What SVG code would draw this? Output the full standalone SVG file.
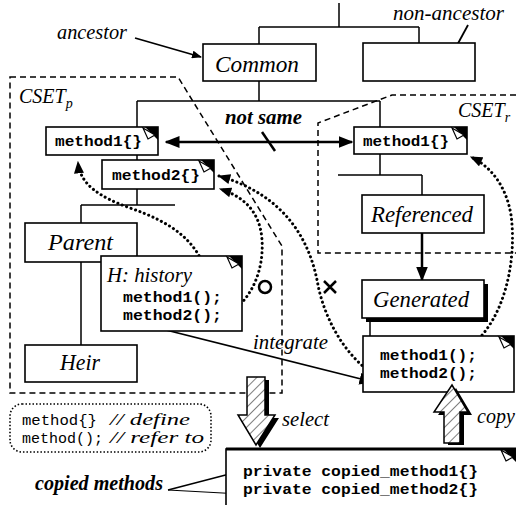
<svg xmlns="http://www.w3.org/2000/svg" width="516" height="505" viewBox="0 0 516 505">
<style>
.box{fill:#fff;stroke:#000;stroke-width:1.6}
.ln{fill:none;stroke:#000;stroke-width:1.5}
.dash{fill:none;stroke:#000;stroke-width:1.5;stroke-dasharray:6 4}
.dot{fill:none;stroke:#000;stroke-width:3;stroke-dasharray:0.1 4.6;stroke-linecap:round}
.lbl{font-family:"Liberation Serif",serif;font-style:italic;font-size:23px;fill:#000}
.sm{font-size:21px}
.b{font-weight:bold}
.mono{font-family:"Liberation Mono",monospace;font-weight:bold;font-size:15px;fill:#000}
.reg{font-weight:normal}
</style>
<defs>
<marker id="ah" viewBox="0 0 10 8" refX="9" refY="4" markerWidth="10" markerHeight="8" markerUnits="userSpaceOnUse" orient="auto-start-reverse"><path d="M0,0 L10,4 L0,8 z" fill="#000"/></marker>
<marker id="ahL" viewBox="0 0 10 8" refX="9" refY="4" markerWidth="15" markerHeight="12" markerUnits="userSpaceOnUse" orient="auto-start-reverse"><path d="M0,0 L10,4 L0,8 z" fill="#000"/></marker>
<marker id="ahD" viewBox="0 0 10 8" refX="9" refY="4" markerWidth="13" markerHeight="10" markerUnits="userSpaceOnUse" orient="auto"><path d="M0,0 L10,4 L0,8 z" fill="#000"/></marker>
<pattern id="hatch" width="7" height="7" patternUnits="userSpaceOnUse" patternTransform="rotate(45)"><rect width="7" height="7" fill="#fff"/><line x1="0" y1="0" x2="0" y2="7" stroke="#000" stroke-width="1"/></pattern>
<g id="ear"><polygon points="-13,0 0,0 0,13" fill="#000"/><polygon points="-15,1 -3,8 -10,12" fill="#fff" stroke="#000" stroke-width="1.2"/></g>
</defs>
<rect width="516" height="505" fill="#fff"/>

<g id="connectors">
<path class="ln" d="M339,3 V27 M259,27 H419 M259,27 V44 M419,27 V43"/>
<path class="ln" d="M259,81 V101 M137,101 H380 M137,101 V127 M380,101 V127"/>
<path class="ln" d="M137,155 V160 M137,189 V205 M81,205 H175 M81,205 V223 M81,262 V345"/>
<path class="ln" d="M380,154 V175 M338,175 H422 M422,175 V195"/>
<path class="ln" d="M370,310 V336"/>
<line x1="135" y1="38" x2="201" y2="57" stroke="#000" stroke-width="1.8" marker-end="url(#ah)"/>
<line x1="468" y1="25" x2="449" y2="60" stroke="#000" stroke-width="1.8" marker-end="url(#ah)"/>
<line x1="166" y1="142" x2="352" y2="142" stroke="#000" stroke-width="2.5" marker-start="url(#ahL)" marker-end="url(#ahL)"/>
<line x1="262" y1="132" x2="275" y2="151" stroke="#000" stroke-width="2.5"/>
<line x1="422" y1="233" x2="422" y2="280" stroke="#000" stroke-width="2.5" marker-end="url(#ahL)"/>
<line x1="150" y1="326" x2="373" y2="382" stroke="#000" stroke-width="1.5" marker-end="url(#ahL)"/>
<line x1="168" y1="490" x2="241" y2="471" stroke="#000" stroke-width="1.5" marker-end="url(#ah)"/>
<line x1="168" y1="490" x2="241" y2="494" stroke="#000" stroke-width="1.2" marker-end="url(#ah)"/>
<path class="dot" d="M209,282 C200,240 170,222 130,208 C100,197 80,185 78,162" marker-end="url(#ahD)"/>
<path class="dot" d="M230,313 C252,298 264,270 262,240 C260,210 242,196 220,189" marker-end="url(#ahD)"/>
<path class="dot" d="M373,374 C345,355 325,320 318,285 C310,240 285,195 219,176" marker-end="url(#ahD)"/>
<path class="dot" d="M472,345 C505,318 517,260 511,215 C506,185 490,166 471,157" marker-end="url(#ahD)"/>
</g>

<g id="cset-p">
<path class="dash" d="M10,77 H178 L277,238 L282,246 V393 H10 Z"/>
<text class="lbl" x="19" y="103" style="font-size:20px">CSET<tspan style="font-size:14px" dy="5">p</tspan></text>
</g>
<g id="cset-r">
<path class="dash" d="M516,95 H392 L318,123 V253 H516"/>
<text class="lbl" x="458" y="117" style="font-size:20px">CSET<tspan style="font-size:14px" dy="5">r</tspan></text>
</g>

<g id="common">
<rect class="box" x="203" y="44" width="113" height="37"/>
<text class="lbl" x="215" y="72" textLength="84" lengthAdjust="spacingAndGlyphs">Common</text>
</g>
<g id="non-ancestor-box">
<rect class="box" x="363" y="43" width="112" height="38"/>
</g>
<g id="method1-p">
<rect class="box" x="46" y="127" width="112" height="28"/>
<use href="#ear" x="158" y="127"/>
<text class="mono" x="55" y="146" textLength="87" lengthAdjust="spacingAndGlyphs">method1{}</text>
</g>
<g id="method2-p">
<rect class="box" x="102" y="160" width="112" height="29"/>
<use href="#ear" x="214" y="160"/>
<text class="mono" x="112" y="180" textLength="88" lengthAdjust="spacingAndGlyphs">method2{}</text>
</g>
<g id="parent">
<rect class="box" x="25" y="223" width="112" height="39"/>
<text class="lbl" x="48" y="250" textLength="65" lengthAdjust="spacingAndGlyphs">Parent</text>
</g>
<g id="history">
<rect class="box" x="101" y="256" width="141" height="75"/>
<use href="#ear" x="242" y="256"/>
<text class="lbl sm" x="107" y="282" textLength="85" lengthAdjust="spacingAndGlyphs">H: history</text>
<text class="mono" x="123" y="302" textLength="99" lengthAdjust="spacingAndGlyphs">method1();</text>
<text class="mono" x="123" y="320" textLength="99" lengthAdjust="spacingAndGlyphs">method2();</text>
</g>
<g id="heir">
<rect class="box" x="25" y="345" width="112" height="37"/>
<text class="lbl" x="60" y="370" textLength="40" lengthAdjust="spacingAndGlyphs">Heir</text>
</g>
<g id="method1-r">
<rect class="box" x="354" y="127" width="113" height="27"/>
<use href="#ear" x="467" y="127"/>
<text class="mono" x="363" y="146" textLength="86" lengthAdjust="spacingAndGlyphs">method1{}</text>
</g>
<g id="referenced">
<rect class="box" x="362" y="195" width="122" height="38"/>
<text class="lbl" x="371" y="222" textLength="102" lengthAdjust="spacingAndGlyphs">Referenced</text>
</g>
<g id="generated">
<rect x="366" y="284" width="122" height="38" fill="#000"/>
<rect class="box" x="362" y="280" width="122" height="38"/>
<text class="lbl" x="373" y="307" textLength="96" lengthAdjust="spacingAndGlyphs">Generated</text>
</g>
<g id="generated-methods">
<rect class="box" x="363" y="336" width="151" height="56"/>
<use href="#ear" x="514" y="336"/>
<text class="mono" x="380" y="360" textLength="97" lengthAdjust="spacingAndGlyphs">method1();</text>
<text class="mono" x="380" y="378" textLength="97" lengthAdjust="spacingAndGlyphs">method2();</text>
</g>
<g id="copied">
<rect class="box" x="226" y="449" width="300" height="70"/>
<line x1="226" y1="449" x2="516" y2="449" stroke="#000" stroke-width="3"/>
<use href="#ear" x="516" y="449"/>
<text class="mono" x="243" y="476" textLength="235" lengthAdjust="spacingAndGlyphs">private copied_method1{}</text>
<text class="mono" x="243" y="494" textLength="235" lengthAdjust="spacingAndGlyphs">private copied_method2{}</text>
</g>
<g id="select-arrow">
<polygon points="251,380 269,380 269,418 279,418 260,448 242,418 251,418" fill="#000"/>
<polygon points="247,377 265,377 265,415 275,415 256,445 238,415 247,415" fill="url(#hatch)" stroke="#000" stroke-width="1.5"/>
<text class="lbl sm" x="282" y="426" textLength="47" lengthAdjust="spacingAndGlyphs">select</text>
</g>
<g id="copy-arrow">
<polygon points="456,388 472,415 464,415 464,445 448,445 448,415 438,415" fill="#000"/>
<polygon points="452,385 468,412 460,412 460,443 444,443 444,412 434,412" fill="url(#hatch)" stroke="#000" stroke-width="1.5"/>
<text class="lbl" x="477" y="423" style="font-size:20px">copy</text>
</g>
<g id="legend">
<rect x="10" y="404" width="201" height="48" rx="12" fill="none" stroke="#000" stroke-width="1.6" stroke-dasharray="1.5 2"/>
<text class="mono reg" x="22" y="425" style="font-size:14px" textLength="75" lengthAdjust="spacingAndGlyphs">method{}</text>
<text class="mono reg" x="22" y="443" style="font-size:14px" textLength="81" lengthAdjust="spacingAndGlyphs">method();</text>
<text class="lbl" x="110" y="425" style="font-size:16px" textLength="80" lengthAdjust="spacingAndGlyphs">// define</text>
<text class="lbl" x="110" y="443" style="font-size:16px" textLength="94" lengthAdjust="spacingAndGlyphs">// refer to</text>
</g>
<g id="labels">
<text class="lbl" x="57" y="39" style="font-size:20.5px" textLength="70" lengthAdjust="spacingAndGlyphs">ancestor</text>
<text class="lbl" x="393" y="20" style="font-size:20.5px" textLength="111" lengthAdjust="spacingAndGlyphs">non-ancestor</text>
<text class="lbl sm b" x="225" y="124" textLength="77" lengthAdjust="spacingAndGlyphs">not same</text>
<text class="lbl sm" x="253" y="349" textLength="75" lengthAdjust="spacingAndGlyphs">integrate</text>
<text class="lbl b" x="35" y="490" style="font-size:20px" textLength="128" lengthAdjust="spacingAndGlyphs">copied methods</text>
<circle cx="265" cy="287" r="6" fill="none" stroke="#000" stroke-width="2.5"/>
<path d="M324,281 L336,293 M336,281 L324,293" stroke="#000" stroke-width="2.5"/>
</g>
</svg>
